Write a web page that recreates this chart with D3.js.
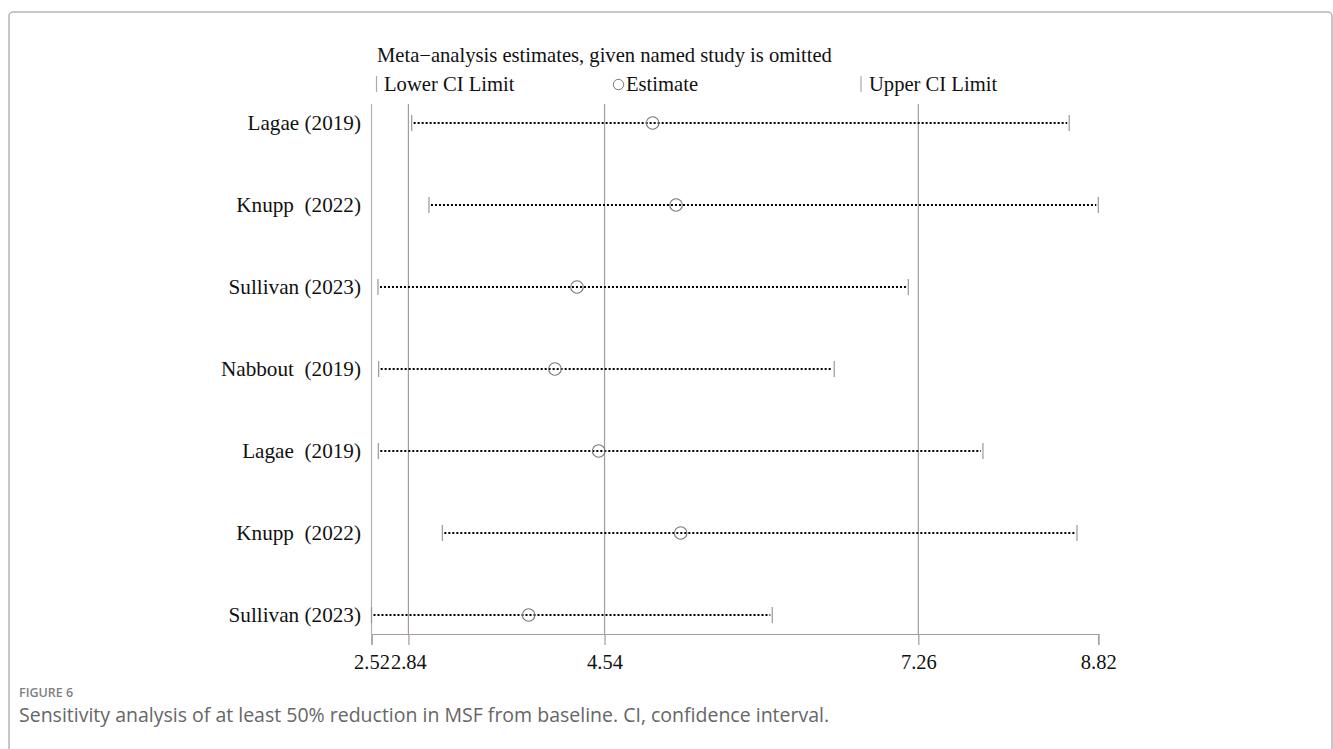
<!DOCTYPE html>
<html><head><meta charset="utf-8">
<script src="https://cdn.jsdelivr.net/npm/d3@7"></script>
<style>
body{margin:0;background:#fff;}
svg{display:block;}
</style></head>
<body>
<svg id="chart" width="1333" height="749"></svg>
<script>
const studies = ["Lagae (2019)", "Knupp  (2022)", "Sullivan (2023)", "Nabbout  (2019)", "Lagae  (2019)", "Knupp  (2022)", "Sullivan (2023)"];
const lowerCI = [2.868, 3.018, 2.576, 2.582, 2.579, 3.134, 2.52];
const estimate = [4.957, 5.16, 4.301, 4.11, 4.489, 5.2, 3.882];
const upperCI = [8.568, 8.82, 7.173, 6.531, 7.82, 8.635, 5.994];
const tickValues = [2.52, 2.84, 4.54, 7.26, 8.82];
const refLines = [2.84, 4.54, 7.26];

const svg = d3.select("#chart");
const serif = "'Liberation Serif','Times New Roman',serif";
const sans = "'Open Sans','Noto Sans',sans-serif";
const fs = 20.6;

// frame
svg.append("rect").attr("x",9).attr("y",12).attr("width",1323).attr("height",760)
  .attr("rx",4).attr("fill","none").attr("stroke","#b5b5b5").attr("stroke-width",1.5);

const x = d3.scaleLinear().domain([2.52, 8.82]).range([371.5, 1098.3]);
const y = d3.scalePoint().domain(d3.range(studies.length)).range([123, 615]);
const axisY = 634, topY = 104;
const grid = "#a39c9a";

// left axis line
svg.append("line").attr("x1",x(2.52)).attr("x2",x(2.52)).attr("y1",topY).attr("y2",axisY)
  .attr("stroke","#b5b0ae").attr("stroke-width",1.2);

// reference lines
svg.selectAll(".ref").data(refLines).join("line")
  .attr("x1",d=>x(d)).attr("x2",d=>x(d)).attr("y1",topY).attr("y2",axisY)
  .attr("stroke",grid).attr("stroke-width",1.2);

// x axis
const ax = svg.append("g").attr("transform",`translate(0,${axisY})`)
  .call(d3.axisBottom(x).tickValues(tickValues).tickFormat(d3.format(".2f")).tickSize(11).tickPadding(9));
ax.select(".domain").attr("stroke",grid).attr("stroke-width",1.2);
ax.selectAll(".tick line").attr("stroke",grid).attr("stroke-width",1.2);
ax.selectAll(".tick text").attr("font-family",serif).attr("font-size",20.5).attr("fill","#111");

// rows
const ry = i => Math.round(y(i));
const rows = svg.selectAll(".row").data(studies).join("g").attr("class","row");
rows.append("line")
  .attr("x1",(d,i)=>x(lowerCI[i])+2).attr("x2",(d,i)=>x(upperCI[i])-2)
  .attr("y1",(d,i)=>ry(i)).attr("y2",(d,i)=>ry(i))
  .attr("stroke","#000").attr("stroke-width",2.2).attr("stroke-dasharray","2,2");
rows.append("line")
  .attr("x1",(d,i)=>x(lowerCI[i])).attr("x2",(d,i)=>x(lowerCI[i]))
  .attr("y1",(d,i)=>ry(i)-8).attr("y2",(d,i)=>ry(i)+8)
  .attr("stroke","#999").attr("stroke-width",1.2);
rows.append("line")
  .attr("x1",(d,i)=>x(upperCI[i])).attr("x2",(d,i)=>x(upperCI[i]))
  .attr("y1",(d,i)=>ry(i)-8).attr("y2",(d,i)=>ry(i)+8)
  .attr("stroke","#999").attr("stroke-width",1.2);
rows.append("circle")
  .attr("cx",(d,i)=>x(estimate[i])).attr("cy",(d,i)=>ry(i)).attr("r",6.3)
  .attr("fill","none").attr("stroke","#777").attr("stroke-width",1.1);
rows.append("text")
  .attr("x",361).attr("y",(d,i)=>ry(i)).attr("dy","0.35em")
  .attr("text-anchor","end").attr("font-family",serif).attr("font-size",21.2)
  .attr("fill","#111").style("white-space","pre").text(d=>d);

// legend
svg.append("text").attr("x",377).attr("y",62).attr("font-family",serif).attr("font-size",fs)
  .attr("fill","#111").text("Meta\u2212analysis estimates, given named study is omitted");
const lg = svg.append("g");
lg.append("line").attr("x1",376.5).attr("x2",376.5).attr("y1",76).attr("y2",92).attr("stroke","#aaa").attr("stroke-width",1.2);
lg.append("text").attr("x",384).attr("y",91).attr("font-family",serif).attr("font-size",fs).attr("fill","#111").text("Lower CI Limit");
lg.append("circle").attr("cx",618.5).attr("cy",84.5).attr("r",5.2).attr("fill","none").attr("stroke","#777").attr("stroke-width",1);
lg.append("text").attr("x",626).attr("y",91).attr("font-family",serif).attr("font-size",fs).attr("fill","#111").text("Estimate");
lg.append("line").attr("x1",861).attr("x2",861).attr("y1",76).attr("y2",92).attr("stroke","#aaa").attr("stroke-width",1.2);
lg.append("text").attr("x",869).attr("y",91).attr("font-family",serif).attr("font-size",fs).attr("fill","#111").text("Upper CI Limit");

// caption
svg.append("text").attr("x",19).attr("y",697).attr("font-family",sans).attr("font-size",12.5).attr("font-weight",600)
  .attr("fill","#808080").text("FIGURE 6");
svg.append("text").attr("x",19).attr("y",722).attr("font-family",sans).attr("font-size",19.5)
  .attr("fill","#666").text("Sensitivity analysis of at least 50% reduction in MSF from baseline. CI, confidence interval.");
</script>
</body></html>
